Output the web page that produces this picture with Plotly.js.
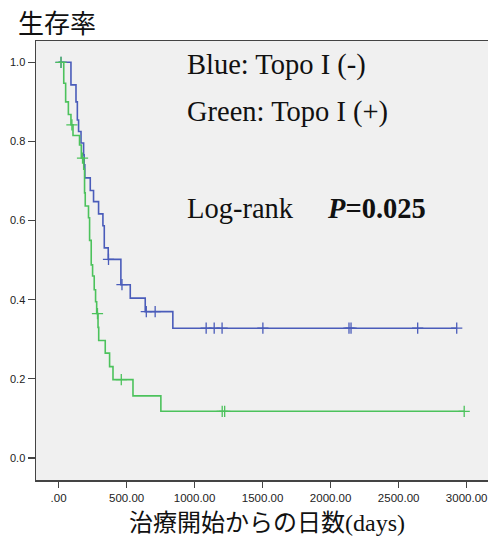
<!DOCTYPE html>
<html>
<head>
<meta charset="utf-8">
<script src="https://cdn.plot.ly/plotly-3.0.1.min.js"></script>
<style>html,body{margin:0;padding:0;background:#fff;}</style>
</head>
<body>
<div id="chart" style="width:488px;height:539px;"></div>
<script>
// Kaplan-Meier step data (days, survival)
const blueTime = [0, 91, 128, 138, 147, 165, 184, 188, 193, 233, 257, 294, 326, 336, 365, 458, 527, 637, 840, 2927];
const blueSurv = [1.0, 0.943, 0.90, 0.854, 0.825, 0.796, 0.766, 0.741, 0.708, 0.676, 0.648, 0.617, 0.587, 0.531, 0.502, 0.438, 0.404, 0.370, 0.328, 0.328];
const blueCensor = [18, 367, 466, 645, 710, 1085, 1144, 1202, 1502, 2135, 2150, 2640, 2927];

const greenTime = [0, 38, 52, 72, 91, 106, 154, 167, 185, 191, 196, 220, 228, 240, 250, 262, 272, 280, 290, 295, 343, 375, 400, 547, 752, 2982];
const greenSurv = [1.0, 0.947, 0.90, 0.868, 0.842, 0.815, 0.791, 0.758, 0.73, 0.67, 0.637, 0.607, 0.55, 0.488, 0.46, 0.425, 0.395, 0.365, 0.33, 0.297, 0.265, 0.231, 0.198, 0.157, 0.118, 0.118];
const greenCensor = [18, 98, 176, 286, 461, 1203, 1221, 2982];

const xTickVals = [0, 500, 1000, 1500, 2000, 2500, 3000];
const xTickText = ['.00', '500.00', '1000.00', '1500.00', '2000.00', '2500.00', '3000.00'];
const yTickVals = [0, 0.2, 0.4, 0.6, 0.8, 1.0];
const yTickText = ['0.0', '0.2', '0.4', '0.6', '0.8', '1.0'];

const BLUE = '#4a5cba';
const GREEN = '#4cc25c';

function survAt(times, surv, t) {
  let s = surv[0];
  for (let i = 0; i < times.length; i++) { if (times[i] <= t) s = surv[i]; }
  return s;
}

const traces = [
  {x: blueTime, y: blueSurv, mode: 'lines', line: {shape: 'hv', color: BLUE, width: 1.6}, hoverinfo: 'skip'},
  {x: greenTime, y: greenSurv, mode: 'lines', line: {shape: 'hv', color: GREEN, width: 1.6}, hoverinfo: 'skip'},
  {x: blueCensor, y: blueCensor.map(t => survAt(blueTime, blueSurv, t)), mode: 'markers',
   marker: {symbol: 'cross-thin-open', size: 8, color: BLUE, line: {color: BLUE, width: 1.3}}},
  {x: greenCensor, y: greenCensor.map(t => survAt(greenTime, greenSurv, t)), mode: 'markers',
   marker: {symbol: 'cross-thin-open', size: 8, color: GREEN, line: {color: GREEN, width: 1.3}}}
];

const serif = '"Liberation Serif", "Times New Roman", serif';
const layout = {
  width: 488, height: 539,
  margin: {l: 36, r: 0, t: 41, b: 59},
  paper_bgcolor: '#ffffff',
  plot_bgcolor: '#f0f0f0',
  showlegend: false,
  title: {text: '生存率', x: 18/488, xanchor: 'left', y: 1 - 24/539, yanchor: 'middle',
          font: {family: '"Noto Sans CJK JP", sans-serif', size: 26, color: '#111'}},
  xaxis: {range: [-166, 3157], tickmode: 'array', tickvals: xTickVals, ticktext: xTickText,
          ticks: 'outside', ticklen: 6, tickwidth: 1.2, tickcolor: '#444', ticklabelstandoff: 1,
          showline: true, linecolor: '#444', linewidth: 1.5, mirror: true,
          showgrid: false, zeroline: false,
          tickfont: {family: '"Liberation Sans", Arial, sans-serif', size: 11.5, color: '#222'}},
  yaxis: {range: [-0.0556, 1.0538], tickmode: 'array', tickvals: yTickVals, ticktext: yTickText,
          ticks: 'outside', ticklen: 7, tickwidth: 1.2, tickcolor: '#444',
          showline: true, linecolor: '#444', linewidth: 1.5,
          showgrid: false, zeroline: false,
          tickfont: {family: '"Liberation Sans", Arial, sans-serif', size: 11, color: '#222'}},
  annotations: [
    {xref: 'paper', yref: 'paper', x: (185-36)/452, y: 1 - (64.8-41)/439, xanchor: 'left', yanchor: 'middle',
     text: 'Blue: Topo I (-)', showarrow: false, font: {family: serif, size: 28.5, color: '#111'}},
    {xref: 'paper', yref: 'paper', x: (185-36)/452, y: 1 - (112.2-41)/439, xanchor: 'left', yanchor: 'middle',
     text: 'Green: Topo I (+)', showarrow: false, font: {family: serif, size: 28.5, color: '#111'}},
    {xref: 'paper', yref: 'paper', x: (185-36)/452, y: 1 - (208.5-41)/439, xanchor: 'left', yanchor: 'middle',
     text: 'Log-rank', showarrow: false, font: {family: serif, size: 28.5, color: '#111'}},
    {xref: 'paper', yref: 'paper', x: (325-36)/452, y: 1 - (208.5-41)/439, xanchor: 'left', yanchor: 'middle',
     text: '<b><i>P</i>=0.025</b>', showarrow: false, font: {family: serif, size: 28.5, color: '#111'}},
    {xref: 'paper', yref: 'paper', x: (266.7-36)/452, y: -(521-480.3)/439, xanchor: 'center', yanchor: 'middle',
     borderpad: 0,
     text: '治療開始からの日数<span style="font-family:\'Liberation Serif\', serif">(days)</span>', showarrow: false,
     font: {family: '"Noto Sans CJK JP", sans-serif', size: 24, color: '#111'}}
  ]
};

Plotly.newPlot('chart', traces, layout, {staticPlot: true, displayModeBar: false});
</script>
</body>
</html>
